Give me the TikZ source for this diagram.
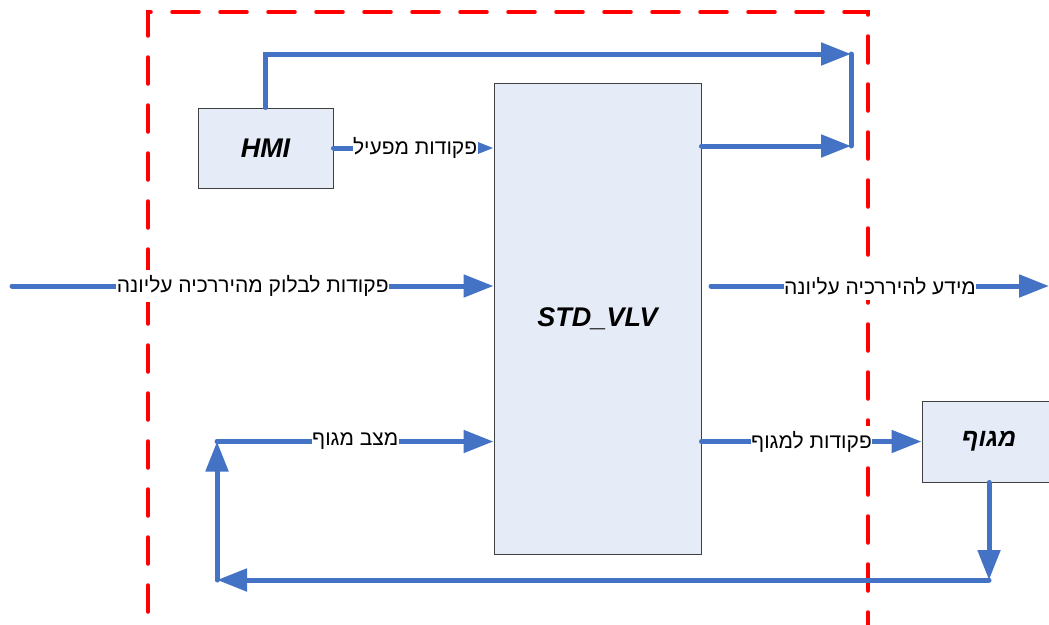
\documentclass[tikz,border=0pt]{standalone}
\usepackage{fontspec}
\setmainfont{Liberation Sans}
\newfontfamily\hebfont[Script=Hebrew]{Liberation Sans}
\TeXXeTstate=1
\usetikzlibrary{arrows.meta}
\definecolor{flowblue}{RGB}{68,114,196}
\definecolor{boxfill}{RGB}{230,236,247}
\newcommand{\heb}[1]{{\hebfont\beginR #1\endR}}

\begin{document}
\begin{tikzpicture}[x=1pt,y=-1pt,
  block/.style={draw=black!75, line width=1pt, fill=boxfill, inner sep=0pt,
    font=\fontsize{27}{30}\selectfont\bfseries\itshape},
  flow/.style={draw=flowblue, line width=5pt, line cap=round},
  flowarrow/.style={flow, -{Triangle[length=30pt,width=22pt]}},
  lbl/.style={fill=white, inner xsep=0.5pt, inner ysep=5pt, text=black,
    font=\fontsize{21}{24}\selectfont},
  boundary/.style={draw=red, line width=3.5pt, dash pattern=on 27pt off 21pt, line cap=round}
]
\useasboundingbox (0,0) rectangle (1049,624);

% block boundary
\draw[boundary] (148,660) -- (148,12) -- (868,12) -- (868,660);

% blocks
\node[block, minimum width=135pt, minimum height=80pt] (hmi) at (265.5,148) {HMI};
\node[block, minimum width=207pt, minimum height=471pt] (vlv) at (597.5,318.5) {STD\_VLV};
\node[block, minimum width=134pt, minimum height=81pt, font=\fontsize{25}{28}\selectfont\bfseries\itshape]
  (valve) at (989,441.5) {\heb{מגוף}};

% free ends of connectors
\coordinate (topR) at (851,54);
\coordinate (midR) at (851,146);
\coordinate (inL) at (12,286);
\coordinate (outS) at (711,286);
\coordinate (outE) at (1049,286);
\coordinate (fbTL) at (217,441.5);
\coordinate (fbBR) at (989,580);
\coordinate (fbBL) at (217,580);

% HMI and block outputs to the right
\draw[flowarrow] (hmi.north) -- (hmi.north |- topR) -- (topR);
\draw[flowarrow] (vlv.east |- midR) -- (midR);
\draw[flow] (topR) -- (midR);

% operator commands
\draw[flowarrow] (hmi.east) -- (hmi.east -| vlv.west)
  node[lbl, pos=0.51] {\heb{פקודות מפעיל}};

% commands from the upper hierarchy
\draw[flowarrow] (inL) -- (inL -| vlv.west)
  node[lbl, midway] {\heb{פקודות לבלוק מהיררכיה עליונה}};

% information to the upper hierarchy
\draw[flowarrow] (outS) -- (outE)
  node[lbl, midway] {\heb{מידע להיררכיה עליונה}};

% commands to the valve
\draw[flowarrow] (vlv.east |- valve.west) -- (valve.west)
  node[lbl, midway] {\heb{פקודות למגוף}};

% valve state feedback loop
\draw[flowarrow] (valve.south) -- (fbBR);
\draw[flowarrow] (fbBR) -- (fbBL);
\draw[flowarrow] (fbBL) -- (fbTL);
\draw[flowarrow] (fbTL) -- (fbTL -| vlv.west)
  node[lbl, midway] {\heb{מצב מגוף}};
\end{tikzpicture}
\end{document}
